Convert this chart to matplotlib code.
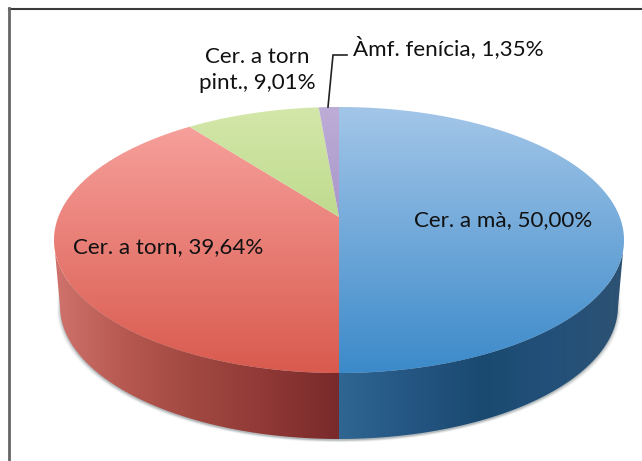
import matplotlib
matplotlib.use("Agg")
import matplotlib.pyplot as plt
import numpy as np
from matplotlib.colors import LinearSegmentedColormap
from matplotlib.patches import Polygon

plt.rcParams["font.family"] = ["Lato", "DejaVu Sans"]

# data, clockwise from 12 o'clock
categories = ["Cer. a mà", "Cer. a torn", "Cer. a torn\npint.", "Àmf. fenícia"]
values = [50.00, 39.64, 9.01, 1.35]

# colours
top_colors = [
    ["#a3c6e8", "#3c8aca"],
    ["#f9a5a1", "#d95a4e"],
    ["#d4e7aa", "#a0ca66"],
    ["#bdadd6", "#8d76b8"],
]
side_colors = [
    ["#2f6692", "#255683", "#1a4a70", "#23507a", "#2d5272"],
    ["#cf736c", "#b65850", "#a04840", "#8f3836", "#792a2a"],
    ["#a0ca66", "#a0ca66"],
    ["#8d76b8", "#8d76b8"],
]

# pie geometry in pixels
cx, cy = 339, 240
rx, ry = 285, 133
apex_y = 217
depth = 66
rx_low = 279
v0 = (cy - apex_y) / ry


def to_screen(t):
    # tilted disc: the centre of the pie sits above the centre of the ellipse
    x = np.sin(t)
    y = np.cos(t)
    d = 1 + v0 * y
    xs = x * np.sqrt(1 - v0 ** 2) / d
    ys = (y + v0) / d
    return xs, ys


def gradient(ax, colors, extent, vertical, poly):
    cmap = LinearSegmentedColormap.from_list("g", colors)
    arr = np.linspace(0, 1, 256)
    arr = arr[:, None] if vertical else arr[None, :]
    im = ax.imshow(arr, cmap=cmap, extent=extent, aspect="auto", interpolation="bilinear", zorder=3)
    patch = Polygon(poly, closed=True, transform=ax.transData, facecolor="none", edgecolor="none")
    ax.add_patch(patch)
    im.set_clip_path(patch)


def label(i):
    return f"{categories[i]}, {values[i]:.2f}%".replace(".00%", ",00%").replace("39.", "39,").replace("9.01", "9,01").replace("1.35", "1,35")


fig = plt.figure(figsize=(6.42, 4.61), dpi=100)
ax = fig.add_axes([0, 0, 1, 1])

# frame
ax.plot([8.5, 642], [8.8, 8.8], color="#3a3a3a", lw=1.5, zorder=1)
ax.plot([8.5, 8.5], [461, 8], color="#666666", lw=2.0, zorder=1)

# soft shadow under the disc
tt = np.linspace(np.pi / 2, 3 * np.pi / 2, 200)
for grow, alpha in zip([3, 2, 1, 0], [0.06, 0.10, 0.16, 0.24]):
    sx = cx + (rx_low + grow) * np.sin(tt)
    sy = cy + depth + 1.5 + grow * 0.6 + ry * -np.cos(tt)
    ax.fill(np.r_[sx, cx - rx_low - grow + 1, cx + rx_low + grow - 1],
            np.r_[sy, cy + 45, cy + 45],
            color="#5f6b70", alpha=alpha, lw=0, zorder=2)

start = 0.0
total = sum(values)
for i, v in enumerate(values):
    t = 2 * np.pi * (start + np.linspace(0, v, 300)) / total
    xs, ys = to_screen(t)
    px = cx + rx * xs
    py = cy - ry * ys

    # side wall, only where the rim faces the viewer
    front = ys <= 0
    if front.any():
        low_x = cx + rx_low * xs[front]
        low_y = cy + depth - ry * ys[front]
        poly = np.c_[np.r_[px[front], low_x[::-1]], np.r_[py[front], low_y[::-1]]]
        gradient(ax, side_colors[i], (px[front].min(), px[front].max(), 445, 230), False, poly)

    # top face
    poly = np.c_[np.r_[cx, px], np.r_[apex_y, py]]
    gradient(ax, top_colors[i], (0, 642, cy + ry, cy - ry), True, poly)
    start += v

# labels
fs = 16.1
ax.text(503.5, 220, label(0), ha="center", va="center", fontsize=fs, color="#111111", zorder=5)
ax.text(168, 247, label(1), ha="center", va="center", fontsize=fs, color="#111111", zorder=5)
ax.text(257, 70, label(2), ha="center", va="center", fontsize=fs, color="#111111", linespacing=1.37, zorder=5)
ax.text(353, 48, label(3), ha="left", va="center", fontsize=fs, color="#111111", zorder=5)

# leader line of the small slice
ax.plot([328, 333, 347], [107, 55, 55], color="#222222", lw=1.2, solid_joinstyle="miter", zorder=5)

ax.set_xlim(0, 642)
ax.set_ylim(461, 0)
ax.axis("off")
fig.savefig("out.png", dpi=100, facecolor="white")
